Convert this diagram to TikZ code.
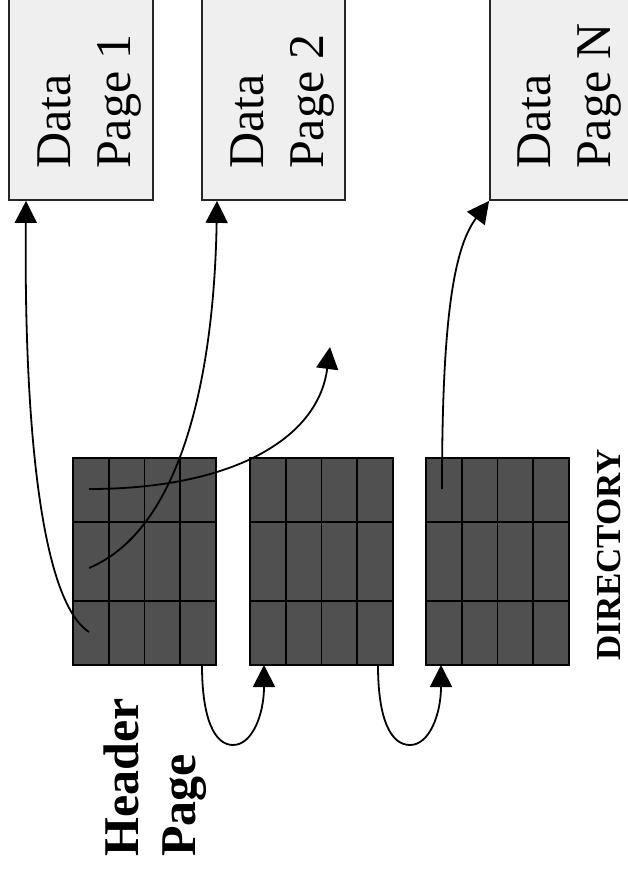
\documentclass[tikz,border=0pt]{standalone}
\usepackage{fontspec}
\setmainfont{Liberation Serif}
\usetikzlibrary{arrows.meta}
\definecolor{pagefill}{HTML}{EFEFEF}
\definecolor{slotfill}{HTML}{505050}
\tikzset{
  datapage/.style={draw=black!85, line width=1.8pt, fill=pagefill, minimum height=240pt, inner sep=0pt},
  pagetext/.style={rotate=90, anchor=north west, inner sep=0pt, align=left, font=\fontsize{50}{60}\selectfont},
  boldtext/.style={rotate=90, anchor=north west, inner sep=0pt, align=left, font=\bfseries\fontsize{50}{57}\selectfont},
  link/.style={line width=1.8pt, -{Triangle[length=22pt,width=22pt]}}
}
\begin{document}
\begin{tikzpicture}[x=1pt,y=-1pt]
\useasboundingbox (0,0) rectangle (627,873);
% data pages
\node[datapage, minimum width=144pt] (dp1) at (81,80) {};
\node[datapage, minimum width=143pt] (dp2) at (273.5,80) {};
\node[datapage, minimum width=160pt] (dpn) at (570,80) {};
\node[pagetext] (t1) at (38,169) {Data\\Page 1};
\node[pagetext] (t2) at (231,169) {Data\\Page 2};
\node[pagetext] (tn) at (518,169) {Data\\Page N};
% directory blocks
\foreach \bx/\nm in {73/b1,250/b2,426/b3}{
  \fill[slotfill] (\bx,458) rectangle ++(143,207);
  \foreach \c in {0,1,2,3}
    \foreach \ya/\yb in {458/522,522/601,601/665}
      \draw[line width=1.6pt] (\bx+\c*35.75,\ya) rectangle (\bx+\c*35.75+35.75,\yb);
  \coordinate (\nm) at (\bx,665);
}
\node[boldtext] (hdr) at (104,857) {Header\\Page};
\node[rotate=90, anchor=north west, inner sep=0pt, font=\bfseries\fontsize{35}{40}\selectfont] (dir) at (597,661) {DIRECTORY};
% slots and links
\coordinate (s1) at (89,632);
\coordinate (s2) at (89,568);
\coordinate (s3) at (89,489);
\coordinate (s4) at (442,489);
\coordinate (free) at (330,347);
\draw[link] (s1) .. controls (40,600) and (24,420) .. (dp1.south west -| 26,0);
\draw[link] (s2) .. controls (180,530) and (214,380) .. (dp2.south west -| 217,0);
\draw[link] (s3) .. controls (230,489) and (318,440) .. (free);
\draw[link] (s4) .. controls (442,330) and (452,250) .. (dpn.south west);
\draw[link] (b1 -| 202,0) .. controls (202,720) and (215,745) .. (233,745) .. controls (252,745) and (264,715) .. (b2 -| 264,0);
\draw[link] (b2 -| 378,0) .. controls (378,720) and (391,745) .. (410,745) .. controls (429,745) and (441,715) .. (b3 -| 441,0);
\end{tikzpicture}
\end{document}
